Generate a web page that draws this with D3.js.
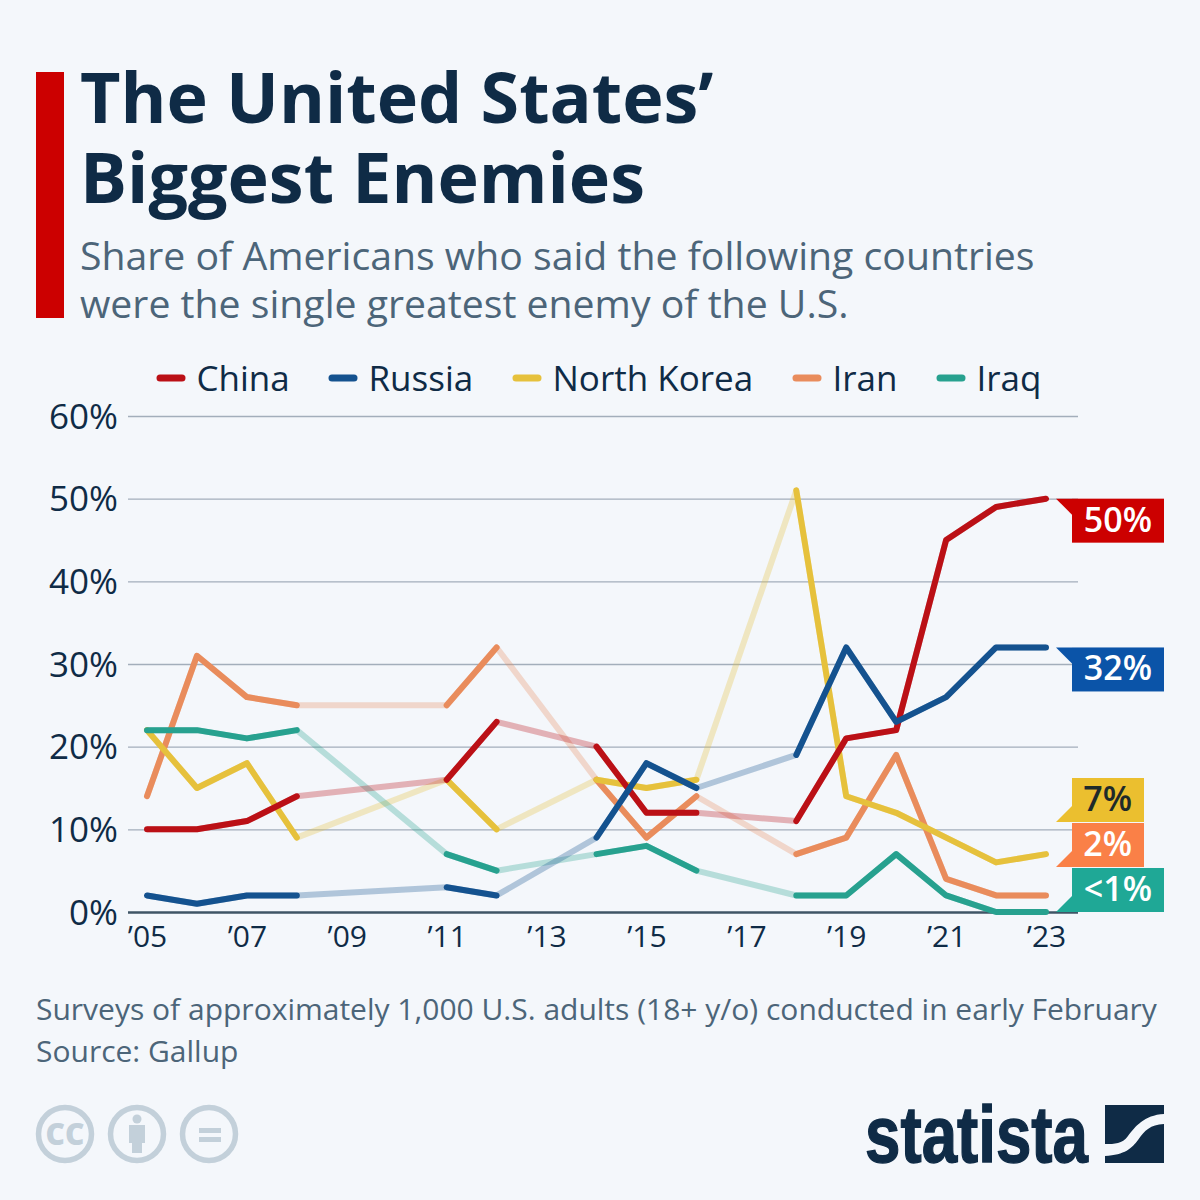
<!DOCTYPE html>
<html>
<head>
<meta charset="utf-8">
<script src="https://cdnjs.cloudflare.com/ajax/libs/d3/7.8.5/d3.min.js"></script>
<style>
html,body{margin:0;padding:0;background:#f4f7fb;}
svg{display:block;font-family:"Open Sans",sans-serif;}
</style>
</head>
<body>
<div id="chart"></div>
<script>
// survey years, null = no survey that year
var years = [2005,2006,2007,2008,2009,2010,2011,2012,2013,2014,2015,2016,2017,2018,2019,2020,2021,2022,2023];
var china  = [10,10,11,14,null,null,16,23,null,20,12,12,null,11,21,22,45,49,50];
var russia = [2,1,2,2,null,null,3,2,null,9,18,15,null,19,32,23,26,32,32];
var nkorea = [22,15,18,9,null,null,16,10,null,16,15,16,null,51,14,12,9,6,7];
var iran   = [14,31,26,25,null,null,25,32,null,16,9,14,null,7,9,19,4,2,2];
var iraq   = [22,22,21,22,null,null,7,5,null,7,8,5,null,2,2,7,2,0,0];

var yTicks = [0,10,20,30,40,50,60];
var xTicks = [2005,2007,2009,2011,2013,2015,2017,2019,2021,2023];
var legendNames = ["China","Russia","North Korea","Iran","Iraq"];
var endLabels = ["50%","32%","7%","2%","<1%"];

var width = 1200, height = 1200;
var svg = d3.select("#chart").append("svg").attr("width",width).attr("height",height);
svg.append("rect").attr("width",width).attr("height",height).attr("fill","#f4f7fb");

var INK = "#0f2b46", GREY = "#4c6579";

// header
svg.append("rect").attr("x",36).attr("y",72).attr("width",28).attr("height",246).attr("fill","#cc0000");
svg.append("text").attr("x",80).attr("y",123).attr("font-size",70).attr("font-weight",700).attr("fill",INK).text("The United States’");
svg.append("text").attr("x",80).attr("y",203).attr("font-size",70).attr("font-weight",700).attr("fill",INK).text("Biggest Enemies");
svg.append("text").attr("x",80).attr("y",270).attr("font-size",39.2).attr("fill",GREY).text("Share of Americans who said the following countries");
svg.append("text").attr("x",80).attr("y",318).attr("font-size",39.2).attr("fill",GREY).text("were the single greatest enemy of the U.S.");

// scales
var x = d3.scaleLinear().domain([2005,2023]).range([147,1046]);
var y = d3.scaleLinear().domain([0,60]).range([912,416]);

// y axis + grid
var yAxis = svg.append("g").attr("transform","translate(128,0)")
	.call(d3.axisLeft(y).tickValues(yTicks).tickSize(-950).tickPadding(10).tickFormat(function(d){ return d+"%"; }));
yAxis.select(".domain").remove();
yAxis.selectAll("line").attr("stroke","#a3aebb").attr("stroke-width",1.4);
yAxis.selectAll("text").attr("font-size",35).attr("font-family","Open Sans").attr("fill",INK).attr("dy","0.35em");
yAxis.selectAll(".tick").filter(function(d){ return d===0; }).select("line").attr("stroke","#3f5566").attr("stroke-width",2.4);

// x axis labels
var xAxis = svg.append("g").attr("transform","translate(0,912)")
	.call(d3.axisBottom(x).tickValues(xTicks).tickSize(0).tickPadding(14).tickFormat(function(d){ return "’"+String(d).slice(2); }));
xAxis.select(".domain").remove();
xAxis.selectAll("text").attr("font-size",30).attr("font-family","Open Sans").attr("fill",INK);

// lines, faded where no survey was run
var series = [
	{name:"Iran",values:iran,color:"#e98c5c"},
	{name:"North Korea",values:nkorea,color:"#e6c13c"},
	{name:"Iraq",values:iraq,color:"#27a18f"},
	{name:"China",values:china,color:"#bb1016"},
	{name:"Russia",values:russia,color:"#14528f"}
];
var solid = d3.line().defined(function(d){ return d.v!==null; }).x(function(d){ return x(d.year); }).y(function(d){ return y(d.v); });
var faded = d3.line().x(function(d){ return x(d.year); }).y(function(d){ return y(d.v); });

var pts = function(s){ return years.map(function(yr,i){ return {year:yr,v:s.values[i]}; }); };

series.forEach(function(s){
	svg.append("path").attr("d",faded(pts(s).filter(function(p){ return p.v!==null; })))
		.attr("fill","none").attr("stroke",s.color).attr("stroke-width",6).attr("stroke-opacity",0.3).attr("stroke-linejoin","round");
});
series.forEach(function(s){
	svg.append("path").attr("d",solid(pts(s)))
		.attr("fill","none").attr("stroke",s.color).attr("stroke-width",6).attr("stroke-linecap","round").attr("stroke-linejoin","round");
});

// legend
var legendColors = ["#bb1016","#14528f","#e6c13c","#e98c5c","#27a18f"];
var legendX = [158,330,514,794,938];
legendNames.forEach(function(n,i){
	svg.append("line").attr("x1",legendX[i]+2).attr("x2",legendX[i]+24).attr("y1",378).attr("y2",378)
		.attr("stroke",legendColors[i]).attr("stroke-width",7).attr("stroke-linecap","round");
	svg.append("text").attr("x",legendX[i]+38.5).attr("y",391).attr("font-size",35).attr("fill",INK).text(n);
});

// end labels: box top/bottom hangs off the value, yellow and orange nudged to fit
var tag = [
	{top:y(china[18]),w:92,fill:"#cc0000",ink:"#fff",up:true},
	{top:y(russia[18]),w:92,fill:"#0b54a8",ink:"#fff",up:true},
	{top:778,w:72,fill:"#ebbf2f",ink:"#1e2a2a",up:false},
	{top:823,w:72,fill:"#fa8047",ink:"#fff",up:false},
	{top:868,w:92,fill:"#1fa896",ink:"#fff",up:false}
];
tag.forEach(function(t,i){
	var g = svg.append("g").attr("transform","translate(1072,"+t.top+")");
	g.append("rect").attr("width",t.w).attr("height",44).attr("fill",t.fill);
	g.append("path").attr("d",t.up?"M-16,0H0V16Z":"M-16,44H0V28Z").attr("fill",t.fill);
	g.append("text").attr("x",t.w-12).attr("y",33).attr("text-anchor","end").attr("font-size",34).attr("font-weight",600).attr("fill",t.ink).text(endLabels[i]);
});

// footer
svg.append("text").attr("x",36).attr("y",1020).attr("font-size",30).attr("fill",GREY).text("Surveys of approximately 1,000 U.S. adults (18+ y/o) conducted in early February");
svg.append("text").attr("x",36).attr("y",1062).attr("font-size",30).attr("fill",GREY).text("Source: Gallup");

// licence icons
var ICON = "#c3d0da";
[65,137,209].forEach(function(cx){
	svg.append("circle").attr("cx",cx).attr("cy",1134).attr("r",26.5).attr("fill","none").attr("stroke",ICON).attr("stroke-width",5.5);
});
svg.append("text").attr("x",65).attr("y",1144.5).attr("text-anchor","middle").attr("font-size",30).attr("font-weight",800).attr("fill",ICON).text("CC");
svg.append("circle").attr("cx",137).attr("cy",1119).attr("r",4.5).attr("fill",ICON);
svg.append("path").attr("d","M129,1125H145V1143H142V1153H132V1143H129Z").attr("fill",ICON);
svg.append("rect").attr("x",199).attr("y",1128).attr("width",22).attr("height",5).attr("fill",ICON);
svg.append("rect").attr("x",199).attr("y",1137).attr("width",22).attr("height",5).attr("fill",ICON);

// logo
svg.append("text").attr("x",865).attr("y",1162).attr("font-size",79).attr("font-weight",700)
	.attr("font-family","Liberation Sans").attr("fill",INK).attr("stroke",INK).attr("stroke-width",1.4)
	.attr("textLength",223).attr("lengthAdjust","spacingAndGlyphs").text("statista");
svg.append("path").attr("fill",INK)
	.attr("d","M1105,1105H1164V1114C1144,1115 1135,1127 1128,1136C1122,1144 1115,1144 1105,1144Z");
svg.append("path").attr("fill",INK)
	.attr("d","M1164,1124V1163H1105V1156C1125,1155 1132,1148 1138,1140C1145,1130 1150,1125 1164,1124Z");
</script>
</body>
</html>
